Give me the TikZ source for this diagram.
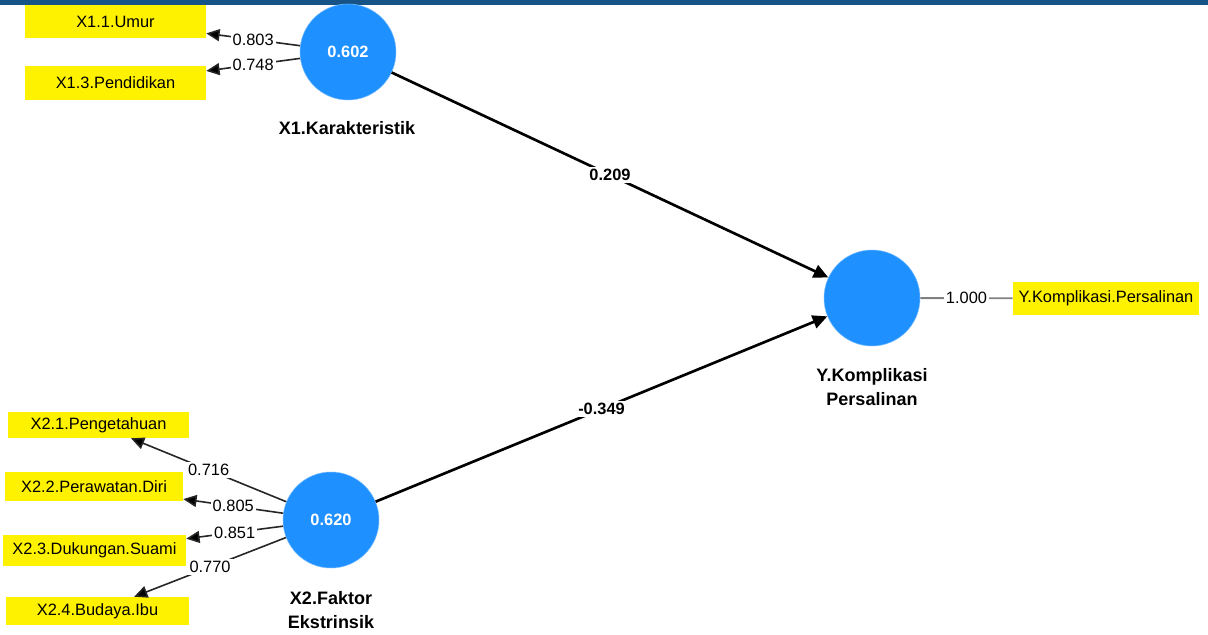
\documentclass[tikz,border=0pt]{standalone}
\usepackage{fontspec}
\setmainfont{Liberation Sans}
\usetikzlibrary{arrows.meta}
\definecolor{latblue}{RGB}{30,144,255}
\definecolor{bandblue}{RGB}{22,84,135}

\begin{document}
\begin{tikzpicture}[x=0.75pt,y=-0.75pt,
    latent/.style={circle,fill=latblue,draw=latblue!60,minimum size=72pt,inner sep=0pt,
        text=white,font=\fontsize{12.3}{14}\selectfont\bfseries},
    indbox/.style={fill=yellow,inner sep=0pt,font=\fontsize{12.3}{14}\selectfont},
    latname/.style={font=\fontsize{13.5}{18}\selectfont\bfseries,align=center},
    loading/.style={draw=black!85,line width=1.2pt,-{Triangle[length=10pt,width=9pt,fill=black]}},
    pathline/.style={draw=black,line width=2pt,-{Triangle[length=11pt,width=10pt]}},
    coef/.style={fill=white,inner sep=1.5pt,font=\fontsize{12.3}{14}\selectfont}]

    \useasboundingbox (0,0) rectangle (1208,635);
    \fill[bandblue] (0,0) rectangle (1208,5);

    % latent variables
    \node[latent] (x1) at (348,52) {0.602};
    \node[latent] (x2) at (331,520) {0.620};
    \node[latent] (y) at (872,298) {};

    \node[latname] (x1name) at (347,128) {X1.Karakteristik};
    \node[latname] (x2name) at (331,610) {X2.Faktor\\Ekstrinsik};
    \node[latname] (yname) at (872,387) {Y.Komplikasi\\Persalinan};

    % indicators
    \node[indbox,minimum width=135.75pt,minimum height=24.75pt] (x11) at (115.5,21.5) {X1.1.Umur};
    \node[indbox,minimum width=135.75pt,minimum height=25.5pt] (x13) at (115.5,83) {X1.3.Pendidikan};
    \node[indbox,minimum width=135.75pt,minimum height=19.5pt] (x21) at (98.5,425) {X2.1.Pengetahuan};
    \node[indbox,minimum width=133.5pt,minimum height=21.75pt] (x22) at (94,486.5) {X2.2.Perawatan.Diri};
    \node[indbox,minimum width=137.25pt,minimum height=23.25pt] (x23) at (94.5,550.5) {X2.3.Dukungan.Suami};
    \node[indbox,minimum width=137.25pt,minimum height=21pt] (x24) at (97.5,611) {X2.4.Budaya.Ibu};
    \node[indbox,minimum width=139.5pt,minimum height=24.75pt] (y1) at (1106,298.5) {Y.Komplikasi.Persalinan};

    \draw[loading] (x1) -- node[coef] {0.803} (x11);
    \draw[loading] (x1) -- node[coef] {0.748} (x13);
    \draw[loading] (x2) -- node[coef] {0.716} (x21);
    \draw[loading] (x2) -- node[coef] {0.805} (x22);
    \draw[loading] (x2) -- node[coef] {0.851} (x23);
    \draw[loading] (x2) -- node[coef] {0.770} (x24);
    \draw[draw=black!50,line width=1.4pt] (y) -- node[coef] {1.000} (y1);

    % inner model
    \draw[pathline] (x1) -- node[coef,font=\fontsize{12.3}{14}\selectfont\bfseries] {0.209} (y);
    \draw[pathline] (x2) -- node[coef,font=\fontsize{12.3}{14}\selectfont\bfseries] {-0.349} (y);
\end{tikzpicture}
\end{document}
